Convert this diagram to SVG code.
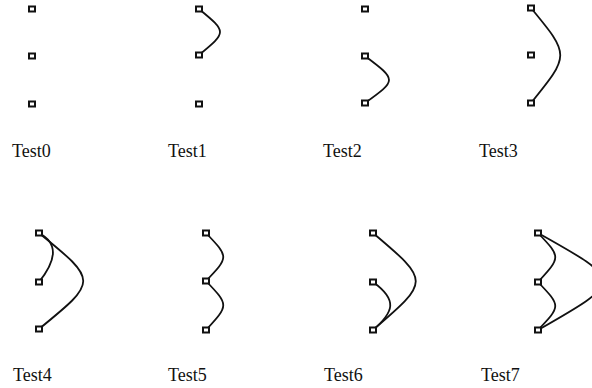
<svg xmlns="http://www.w3.org/2000/svg" width="592" height="388" viewBox="0 0 592 388">
  <style>
    .edge { fill: none; stroke: #111; stroke-width: 1.8; stroke-linecap: round; }
    .pt { fill: #fff; stroke: #111; stroke-width: 2; }
    .lbl { font-family: "Liberation Serif", "Times New Roman", serif; font-size: 18px; fill: #111; }
  </style>
  <defs>
    <rect id="handle" x="-3" y="-2.5" width="6" height="5"/>
  </defs>
  <rect width="592" height="388" fill="#fff"/>

  <!-- curves between points -->
  <g id="connectors">
    <!-- Test1 -->
    <path class="edge" d="M199,9 C227,32 227,32 199,55"/>
    <!-- Test2 -->
    <path class="edge" d="M365,56 C397,80 397,80 365,103"/>
    <!-- Test3 -->
    <path class="edge" d="M531,8 C570,55 570,55 531,103"/>
    <!-- Test4 -->
    <path class="edge" d="M39,233 C60,244 55,262 39,282"/>
    <path class="edge" d="M39,233 C98,281 98,281 39,329"/>
    <!-- Test5 -->
    <path class="edge" d="M206,233 C229,257 229,257 206,281"/>
    <path class="edge" d="M206,281 C229,305 229,305 206,330"/>
    <!-- Test6 -->
    <path class="edge" d="M373,233 C430,281 430,281 373,330"/>
    <path class="edge" d="M373,282 C398,300 394,312 373,330"/>
    <!-- Test7 -->
    <path class="edge" d="M538,233 C561,257 561,257 538,282"/>
    <path class="edge" d="M538,282 C561,306 561,306 538,330"/>
    <path class="edge" d="M538,233 C624,281 624,281 538,330"/>
  </g>

  <g id="test0">
    <g id="t0-p0"><use href="#handle" class="pt" x="32" y="9"/></g>
    <g id="t0-p1"><use href="#handle" class="pt" x="32" y="56"/></g>
    <g id="t0-p2"><use href="#handle" class="pt" x="32" y="104"/></g>
    <text class="lbl" x="12" y="157">Test0</text>
  </g>
  <g id="test1">
    <g id="t1-p0"><use href="#handle" class="pt" x="199" y="9"/></g>
    <g id="t1-p1"><use href="#handle" class="pt" x="199" y="55"/></g>
    <g id="t1-p2"><use href="#handle" class="pt" x="199" y="104"/></g>
    <text class="lbl" x="168" y="157">Test1</text>
  </g>
  <g id="test2">
    <g id="t2-p0"><use href="#handle" class="pt" x="365" y="9"/></g>
    <g id="t2-p1"><use href="#handle" class="pt" x="365" y="56"/></g>
    <g id="t2-p2"><use href="#handle" class="pt" x="365" y="103"/></g>
    <text class="lbl" x="323" y="157">Test2</text>
  </g>
  <g id="test3">
    <g id="t3-p0"><use href="#handle" class="pt" x="531" y="8"/></g>
    <g id="t3-p1"><use href="#handle" class="pt" x="531" y="55"/></g>
    <g id="t3-p2"><use href="#handle" class="pt" x="531" y="103"/></g>
    <text class="lbl" x="479" y="157">Test3</text>
  </g>
  <g id="test4">
    <g id="t4-p0"><use href="#handle" class="pt" x="39" y="233"/></g>
    <g id="t4-p1"><use href="#handle" class="pt" x="39" y="282"/></g>
    <g id="t4-p2"><use href="#handle" class="pt" x="39" y="329"/></g>
    <text class="lbl" x="13" y="381">Test4</text>
  </g>
  <g id="test5">
    <g id="t5-p0"><use href="#handle" class="pt" x="206" y="233"/></g>
    <g id="t5-p1"><use href="#handle" class="pt" x="206" y="281"/></g>
    <g id="t5-p2"><use href="#handle" class="pt" x="206" y="330"/></g>
    <text class="lbl" x="168" y="381">Test5</text>
  </g>
  <g id="test6">
    <g id="t6-p0"><use href="#handle" class="pt" x="373" y="233"/></g>
    <g id="t6-p1"><use href="#handle" class="pt" x="373" y="282"/></g>
    <g id="t6-p2"><use href="#handle" class="pt" x="373" y="330"/></g>
    <text class="lbl" x="324" y="381">Test6</text>
  </g>
  <g id="test7">
    <g id="t7-p0"><use href="#handle" class="pt" x="538" y="233"/></g>
    <g id="t7-p1"><use href="#handle" class="pt" x="538" y="282"/></g>
    <g id="t7-p2"><use href="#handle" class="pt" x="538" y="330"/></g>
    <text class="lbl" x="481" y="381">Test7</text>
  </g>
</svg>
